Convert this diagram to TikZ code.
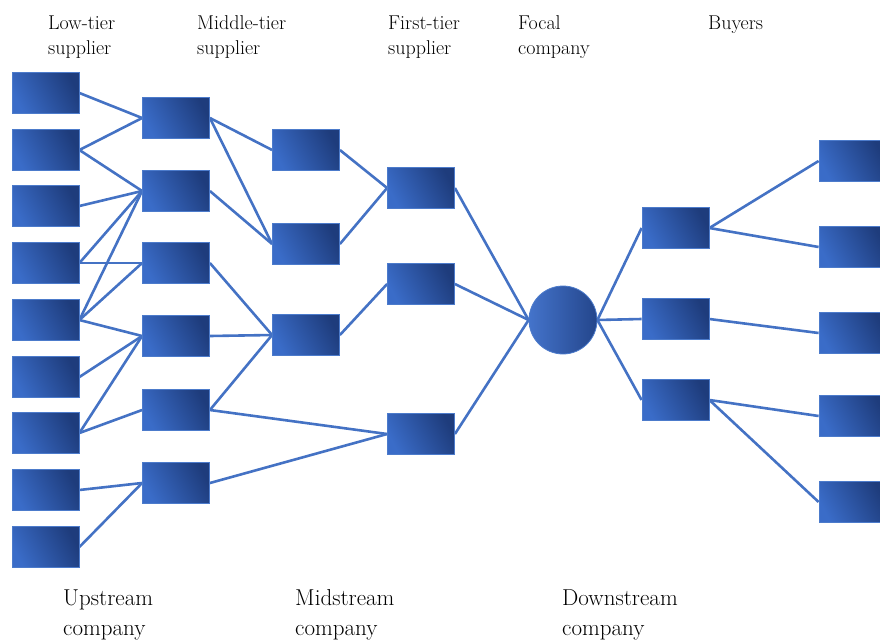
\documentclass[tikz,border=0pt]{standalone}
\usetikzlibrary{backgrounds}
\definecolor{linkblue}{HTML}{4472C4}
\definecolor{boxlight}{HTML}{3A6CC8}
\definecolor{boxdark}{HTML}{1E3C7C}
\definecolor{boxedge}{HTML}{4C7BCB}
\tikzset{
  firm/.style={rectangle, minimum width=67pt, minimum height=41pt, inner sep=0pt,
    draw=boxedge, line width=0.8pt, top color=boxdark, bottom color=boxlight, shading angle=-62},
  focal/.style={circle, minimum size=68pt, inner sep=0pt,
    draw=boxedge, line width=0.8pt, left color=boxlight!95!white, right color=boxdark!80!boxlight},
  link/.style={draw=linkblue, line width=2.6pt},
  head/.style={anchor=base west, inner sep=0pt, font=\fontsize{20}{24}\selectfont},
  foot/.style={anchor=base west, inner sep=0pt, font=\fontsize{23}{28}\selectfont}
}
\begin{document}
\begin{tikzpicture}[x=1pt, y=-1pt]
\useasboundingbox (0,0) rectangle (880,640);
\clip (0,0) rectangle (880,640);

% low-tier suppliers
\foreach \n/\y in {1/93,2/150,3/206,4/263,5/320,6/377,7/433,8/490,9/547}
  \node[firm] (L\n) at (45.5,\y) {};
% middle-tier suppliers
\foreach \n/\y in {1/118,2/191,3/263,4/336,5/410,6/483}
  \node[firm] (M\n) at (176,\y) {};
% second column of middle-tier suppliers
\foreach \n/\y in {1/150,2/244,3/335}
  \node[firm] (N\n) at (306,\y) {};
% first-tier suppliers
\foreach \n/\y in {1/188,2/284,3/434}
  \node[firm] (F\n) at (421,\y) {};
% focal company
\node[focal] (C) at (563,320) {};
% downstream firms
\foreach \n/\y in {1/228,2/319,3/400}
  \node[firm] (D\n) at (675.5,\y) {};
% buyers
\foreach \n/\y in {1/161,2/247,3/333,4/416,5/502}
  \node[firm] (B\n) at (852.5,\y) {};

\begin{scope}[on background layer]
  \foreach \a/\b in {L1/M1,L2/M1,L2/M2,L3/M2,L4/M2,L4/M3,L5/M2,L5/M3,L5/M4,
                     L6/M4,L7/M4,L7/M5,L8/M6,L9/M6,
                     M1/N1,M1/N2,M2/N2,M3/N3,M4/N3,M5/N3,M5/F3,M6/F3,
                     N1/F1,N2/F1,N3/F2}
    \draw[link] (\a.east) -- (\b.west);
  \foreach \a in {F1,F2,F3}
    \draw[link] (\a.east) -- (C.west);
  \foreach \b in {D1,D2,D3}
    \draw[link] (C.east) -- (\b.west);
  \foreach \a/\b in {D1/B1,D1/B2,D2/B3,D3/B4,D3/B5}
    \draw[link] (\a.east) -- (\b.west);
\end{scope}

% column headings
\node[head] (h1a) at (48,29) {Low-tier};
\node[head] (h1b) at (48,54) {supplier};
\node[head] (h2a) at (197,29) {Middle-tier};
\node[head] (h2b) at (197,54) {supplier};
\node[head] (h3a) at (388,29) {First-tier};
\node[head] (h3b) at (388,54) {supplier};
\node[head] (h4a) at (518,29) {Focal};
\node[head] (h4b) at (518,54) {company};
\node[head] (h5a) at (708,29) {Buyers};

% stream labels
\node[foot] (s1a) at (63,605) {Upstream};
\node[foot] (s1b) at (63,635) {company};
\node[foot] (s2a) at (295,605) {Midstream};
\node[foot] (s2b) at (295,635) {company};
\node[foot] (s3a) at (562,605) {Downstream};
\node[foot] (s3b) at (562,635) {company};
\end{tikzpicture}
\end{document}
